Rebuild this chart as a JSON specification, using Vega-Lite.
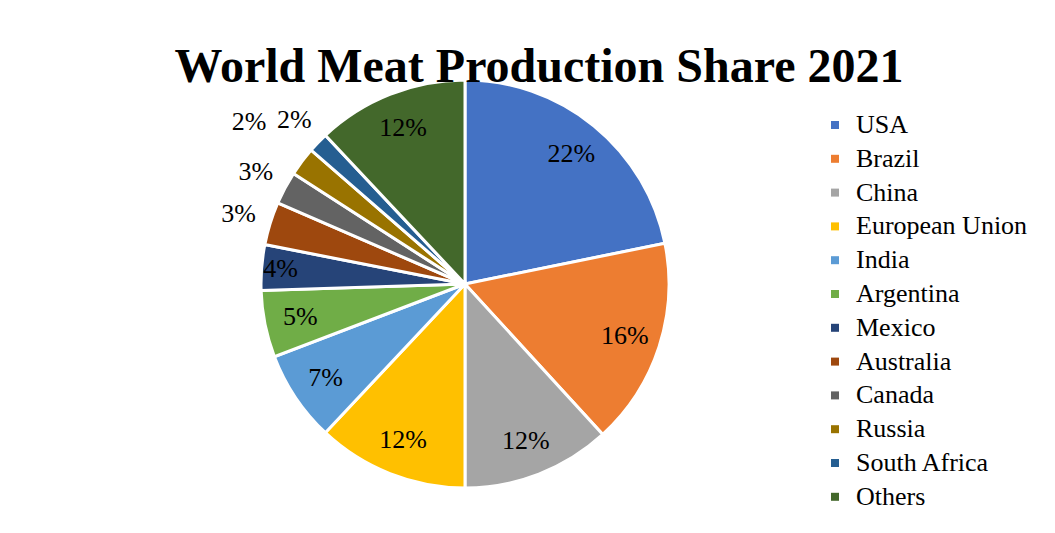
{
  "$schema": "https://vega.github.io/schema/vega-lite/v6.json",
  "autosize": {"type": "none"},
  "padding": {"top": 80, "left": 0, "right": 125, "bottom": 45},
  "width": 930,
  "height": 408,
  "background": "white",
  "config": {"font": "Liberation Serif, Times New Roman, serif"},
  "title": {
    "text": "World Meat Production Share 2021",
    "font": "Liberation Serif, Times New Roman, serif",
    "fontSize": 48,
    "fontWeight": "bold",
    "color": "black",
    "anchor": "middle",
    "baseline": "alphabetic",
    "offset": -110,
    "dx": 74
  },
  "data": {
    "values": [
      {"idx": 1, "country": "USA", "share": 0.218},
      {"idx": 2, "country": "Brazil", "share": 0.164},
      {"idx": 3, "country": "China", "share": 0.118},
      {"idx": 4, "country": "European Union", "share": 0.120},
      {"idx": 5, "country": "India", "share": 0.072},
      {"idx": 6, "country": "Argentina", "share": 0.053},
      {"idx": 7, "country": "Mexico", "share": 0.036},
      {"idx": 8, "country": "Australia", "share": 0.034},
      {"idx": 9, "country": "Canada", "share": 0.026},
      {"idx": 10, "country": "Russia", "share": 0.023},
      {"idx": 11, "country": "South Africa", "share": 0.016},
      {"idx": 12, "country": "Others", "share": 0.120}
    ]
  },
  "encoding": {
    "theta": {"field": "share", "type": "quantitative", "stack": true},
    "order": {"field": "idx", "type": "quantitative"}
  },
  "layer": [
    {
      "mark": {"type": "arc", "outerRadius": 204, "stroke": "white", "strokeWidth": 3},
      "encoding": {
        "color": {
          "field": "country",
          "type": "nominal",
          "scale": {
            "domain": ["USA", "Brazil", "China", "European Union", "India", "Argentina", "Mexico", "Australia", "Canada", "Russia", "South Africa", "Others"],
            "range": ["#4472C4", "#ED7D31", "#A5A5A5", "#FFC000", "#5B9BD5", "#70AD47", "#264478", "#9E480E", "#636363", "#997300", "#255E91", "#43682B"]
          },
          "legend": {
            "title": null,
            "orient": "none",
            "legendX": 822,
            "legendY": 32,
            "symbolType": "square",
            "symbolSize": 64,
            "symbolStrokeWidth": 0,
            "labelFont": "Liberation Serif, Times New Roman, serif",
            "labelFontSize": 26,
            "labelColor": "black",
            "labelOffset": 8,
            "rowPadding": 7.8,
            "padding": 0,
            "labelLimit": 400
          }
        }
      }
    },
    {
      "mark": {"type": "text", "radius": 168, "font": "Liberation Serif, Times New Roman, serif", "fontSize": 26, "color": "black"},
      "encoding": {
        "text": {
          "condition": {"test": "datum.share >= 0.05 || datum.country == 'Others'", "field": "share", "format": ".0%"},
          "value": ""
        }
      }
    },
    {
      "mark": {"type": "text", "radius": 185, "font": "Liberation Serif, Times New Roman, serif", "fontSize": 26, "color": "black"},
      "encoding": {
        "text": {
          "condition": {"test": "datum.country == 'Mexico'", "field": "share", "format": ".0%"},
          "value": ""
        }
      }
    },
    {
      "mark": {"type": "text", "radius": 237, "font": "Liberation Serif, Times New Roman, serif", "fontSize": 26, "color": "black"},
      "encoding": {
        "text": {
          "condition": {"test": "datum.country == 'Australia' || datum.country == 'Canada' || datum.country == 'South Africa'", "field": "share", "format": ".0%"},
          "value": ""
        }
      }
    },
    {
      "mark": {"type": "text", "radius": 270, "font": "Liberation Serif, Times New Roman, serif", "fontSize": 26, "color": "black"},
      "encoding": {
        "text": {
          "condition": {"test": "datum.country == 'Russia'", "field": "share", "format": ".0%"},
          "value": ""
        }
      }
    }
  ]
}
